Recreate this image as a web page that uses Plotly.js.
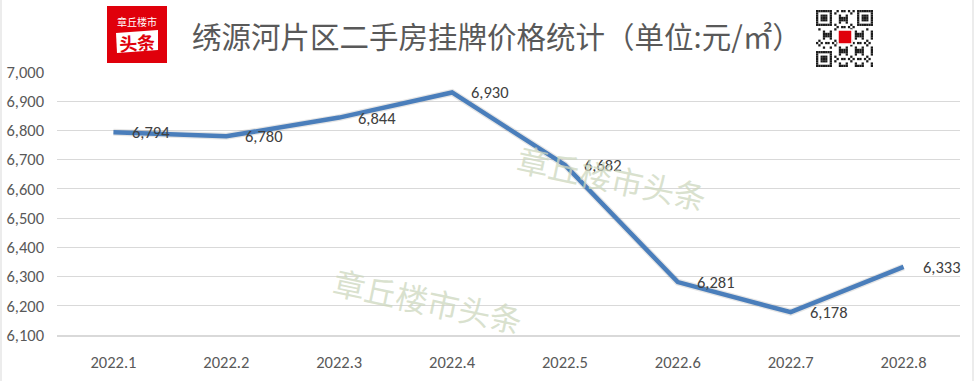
<!DOCTYPE html>
<html>
<head>
<meta charset="utf-8">
<script src="https://cdn.plot.ly/plotly-3.0.1.min.js"></script>
<style>html,body{margin:0;padding:0;background:#fff;}#chart{width:975px;height:381px;}</style>
</head>
<body>
<div id="chart"></div>
<script>
// ---- data ----
const months = ["2022.1","2022.2","2022.3","2022.4","2022.5","2022.6","2022.7","2022.8"];
const prices = [6794, 6780, 6844, 6930, 6682, 6281, 6178, 6333];
const yTicks = [6100, 6200, 6300, 6400, 6500, 6600, 6700, 6800, 6900, 7000];
const titleText = "绣源河片区二手房挂牌价格统计（单位:元/㎡）";
const watermarkText = "章丘楼市头条";

const numFont = "Carlito, Lato, 'Liberation Sans', sans-serif";
const cjkFont = "'Noto Sans CJK SC', sans-serif";

const shadow = {
  x: months, y: prices, type: "scatter", mode: "lines",
  line: {color: "rgba(0,0,0,0.10)", width: 7},
  hoverinfo: "skip", showlegend: false
};
const trace = {
  x: months, y: prices, type: "scatter", mode: "lines",
  line: {color: "#4a7ebb", width: 4.5},
  hoverinfo: "skip", showlegend: false
};

const annotations = months.map((m, i) => ({
  x: i, y: prices[i], xref: "x", yref: "y",
  text: prices[i].toLocaleString("en-US"),
  showarrow: false, xanchor: "left", yanchor: "middle", xshift: 17,
  font: {family: numFont, size: 16.5, color: "#404040"}
}));

function px(x){ return (x-57)/903; }
function py(y){ return (335-y)/263; }

// watermarks
[[612,177],[428,300]].forEach(p => annotations.push({
  xref: "paper", yref: "paper", x: px(p[0]), y: py(p[1]), xanchor: "center", yanchor: "middle",
  text: watermarkText, showarrow: false, textangle: 12,
  font: {family: cjkFont, size: 32, color: "rgba(205,215,190,0.75)"}
}));

// logo texts
annotations.push({xref:"paper", yref:"paper", x: px(137), y: py(22), xanchor:"center", yanchor:"middle",
  text:"章丘楼市", showarrow:false, font:{family:cjkFont, size:10, color:"#ffffff"}});
annotations.push({xref:"paper", yref:"paper", x: px(137), y: py(41.5), xanchor:"center", yanchor:"middle",
  text:"<b>头条</b>", showarrow:false, textangle:-4, font:{family:cjkFont, size:18, color:"#e0000b"}});

const shapes = [];
// outer frame
shapes.push({type:"rect", xref:"paper", yref:"paper", x0:px(1), x1:px(973), y0:py(400), y1:py(-20),
  line:{color:"#d9d9d9", width:1}, fillcolor:"rgba(0,0,0,0)", layer:"below"});
// logo
shapes.push({type:"rect", xref:"paper", yref:"paper", x0:px(107), x1:px(167), y0:py(63), y1:py(6),
  line:{width:0}, fillcolor:"#e0000b"});
shapes.push({type:"path", xref:"paper", yref:"paper",
  path:`M ${px(116)} ${py(33)} L ${px(158)} ${py(30)} L ${px(158)} ${py(50)} L ${px(117)} ${py(53)} Z`,
  line:{width:0}, fillcolor:"#ffffff"});
// QR code (decorative)
const qx0 = 816, qy0 = 10, qs = 57, n = 25, cell = qs/n;
function mod(i,j){
  const inF = (a,b)=> (i>=a && i<a+7 && j>=b && j<b+7);
  const e = n-7;
  if (inF(0,0)||inF(0,e)||inF(e,0)) {
    const a = i<7?0:e, b = j<7?0:e;
    const di=i-a, dj=j-b;
    if (di===0||di===6||dj===0||dj===6) return true;
    if (di>=2&&di<=4&&dj>=2&&dj<=4) return true;
    return false;
  }
  if ((i===7&&(j<8||j>=e-1))||(j===7&&(i<8||i>=e-1))||(i===e-1&&j<8)||(j===e-1&&i<8)) return false;
  return ((i*i*3 + j*5 + i*j*7 + j*j) % 7) < 3;
}
for (let i=0;i<n;i++) for (let j=0;j<n;j++) {
  if (mod(i,j)) shapes.push({type:"rect", xref:"paper", yref:"paper",
    x0:px(qx0+j*cell), x1:px(qx0+(j+1)*cell), y0:py(qy0+(i+1)*cell), y1:py(qy0+i*cell),
    line:{width:0}, fillcolor:"#1a1a1a"});
}
shapes.push({type:"rect", xref:"paper", yref:"paper", x0:px(838), x1:px(852), y0:py(44), y1:py(30),
  line:{color:"#ffffff", width:1.5}, fillcolor:"#e0000b"});

const layout = {
  width: 975, height: 381,
  margin: {l: 57, r: 15, t: 72, b: 46},
  paper_bgcolor: "#ffffff", plot_bgcolor: "#ffffff",
  title: {text: titleText, x: 497/975, xanchor: "center", y: 1-38/381, yanchor: "middle",
    yref: "container", font: {family: cjkFont, size: 29.5, color: "#595959"}},
  xaxis: {type: "category", range: [-0.5, 7.5], showgrid: false, zeroline: false,
    showline: true, linecolor: "#d9d9d9", linewidth: 2, ticks: "", ticklabelstandoff: 11,
    tickfont: {family: numFont, size: 16.5, color: "#595959"}, fixedrange: true},
  yaxis: {range: [6100, 7000], tickvals: yTicks, tickformat: ",d", showgrid: true,
    gridcolor: "#d9d9d9", gridwidth: 1, zeroline: false, showline: false, ticks: "",
    ticklabelstandoff: 12,
    tickfont: {family: numFont, size: 16.5, color: "#595959"}, fixedrange: true},
  annotations: annotations,
  shapes: shapes,
  showlegend: false
};

Plotly.newPlot("chart", [shadow, trace], layout, {staticPlot: true, displayModeBar: false});
</script>
</body>
</html>
